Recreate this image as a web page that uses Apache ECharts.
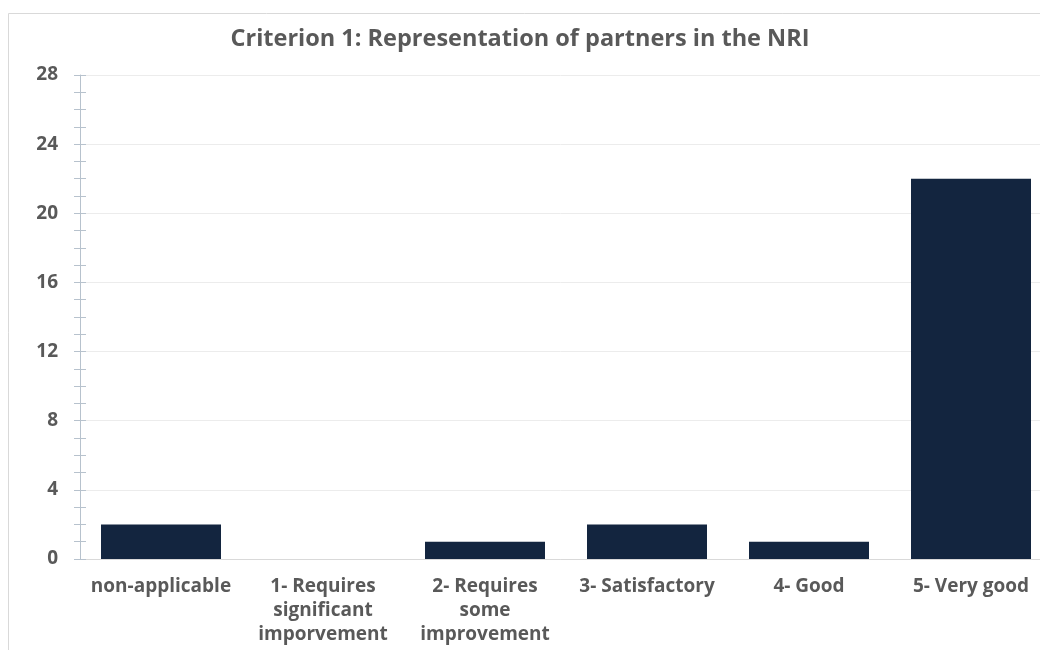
<!DOCTYPE html>
<html>
<head>
<meta charset="utf-8">
<script src="https://cdn.jsdelivr.net/npm/echarts@6/dist/echarts.min.js"></script>
<style>
  html, body { margin: 0; padding: 0; background: #fff; }
  #chart { width: 1040px; height: 650px; }
</style>
</head>
<body>
<div id="chart"></div>
<script>
// Survey ratings for criterion 1
const titleText = 'Criterion 1: Representation of partners in the NRI';
const categories = [
  'non-applicable',
  '1- Requires\nsignificant\nimporvement',
  '2- Requires\nsome\nimprovement',
  '3- Satisfactory',
  '4- Good',
  '5- Very good'
];
const counts = [2, 0, 1, 2, 1, 22];
const yTicks = { min: 0, max: 28, interval: 4 };

const font = '"Open Sans", "Noto Sans", sans-serif';
const textGray = '#595959';
const axisBlue = '#b7c2cd';

const chart = echarts.init(document.getElementById('chart'), null, { renderer: 'canvas' });

const baseY = {
  type: 'value',
  min: yTicks.min,
  max: yTicks.max,
  interval: yTicks.interval,
  position: 'left'
};

chart.setOption({
  animation: false,
  backgroundColor: '#fff',
  title: {
    text: titleText,
    left: 'center',
    top: 22,
    textStyle: { fontFamily: font, fontWeight: 'bold', fontSize: 23.5, color: textGray }
  },
  graphic: [{
    type: 'rect',
    shape: { x: 8.5, y: 13.5, width: 1100, height: 700 },
    style: { fill: 'none', stroke: '#d9d9d9', lineWidth: 1 },
    silent: true,
    z: -1
  }],
  // plot area runs a little past the right edge of the canvas
  grid: { left: 80, width: 972, top: 75, bottom: 91, containLabel: false, outerBoundsMode: 'none' },
  xAxis: {
    type: 'category',
    data: categories,
    axisLine: { show: true, lineStyle: { color: '#d9d9d9', width: 1 } },
    axisTick: { show: false },
    axisLabel: {
      interval: 0,
      margin: 16,
      fontFamily: font,
      fontWeight: 'bold',
      fontSize: 19,
      lineHeight: 24,
      color: textGray
    }
  },
  yAxis: [
    Object.assign({}, baseY, {
      axisLine: { show: true, lineStyle: { color: axisBlue, width: 1 } },
      axisTick: { show: true, length: 6, lineStyle: { color: axisBlue } },
      minorTick: { show: true, splitNumber: 4, length: 6, lineStyle: { color: axisBlue } },
      axisLabel: {
        margin: 22,
        fontFamily: font,
        fontWeight: 'bold',
        fontSize: 19,
        color: textGray
      },
      splitLine: { show: true, lineStyle: { color: '#ececec', width: 1 } }
    }),
    // same scale drawn again with inward ticks, so the ticks cross the axis line
    Object.assign({}, baseY, {
      axisLine: { show: false },
      axisTick: { show: true, inside: true, length: 6, lineStyle: { color: axisBlue } },
      minorTick: { show: true, splitNumber: 4, length: 6, lineStyle: { color: axisBlue } },
      axisLabel: { show: false },
      splitLine: { show: false }
    })
  ],
  series: [{
    type: 'bar',
    data: counts,
    yAxisIndex: 0,
    barWidth: 120,
    itemStyle: { color: '#13253f' }
  }]
});
</script>
</body>
</html>
